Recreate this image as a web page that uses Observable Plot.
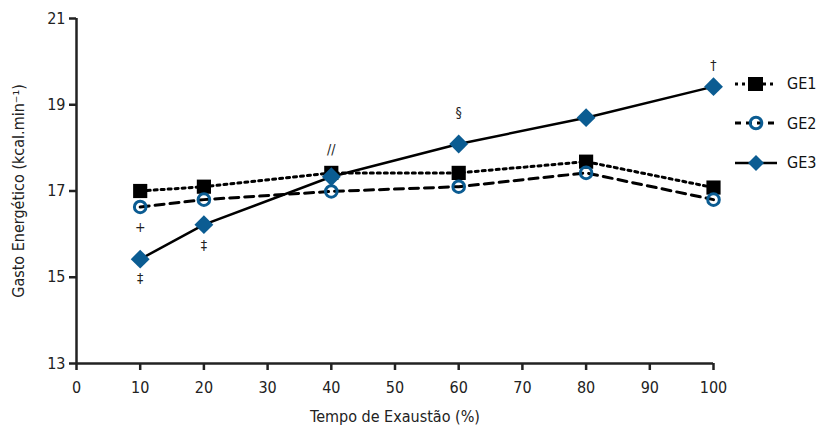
<!DOCTYPE html>
<html>
<head>
<meta charset="utf-8">
<script src="https://cdn.jsdelivr.net/npm/d3@7"></script>
<script src="https://cdn.jsdelivr.net/npm/@observablehq/plot@0.6"></script>
<style>
  html, body { margin: 0; padding: 0; background: #fff; }
  #wrap { position: relative; width: 817px; height: 426px; font-family: "DejaVu Sans Condensed", "DejaVu Sans", sans-serif; font-stretch: condensed; }
  #wrap svg text { font-stretch: condensed; }
  #legend { position: absolute; left: 733px; top: 64px; }
  .item { display: flex; align-items: center; height: 39.5px; font-size: 16px; color: #111; }
  .item svg { margin-right: 8px; }
</style>
</head>
<body>
<div id="wrap"></div>
<script>
const times = [10, 20, 40, 60, 80, 100];
const ge1 = [17.0, 17.1, 17.42, 17.42, 17.68, 17.08];
const ge2 = [16.63, 16.8, 16.99, 17.1, 17.42, 16.8];
const ge3 = [15.42, 16.22, 17.33, 18.09, 18.7, 19.42];
const seriesNames = ["GE1", "GE2", "GE3"];
const xTicks = [0, 10, 20, 30, 40, 50, 60, 70, 80, 90, 100];
const yTicks = [13, 15, 17, 19, 21];
const noteLabels = ["+", "‡", "‡", "//", "§", "†"];
const noteX = [10, 10, 20, 40, 60, 100];
const noteY = [16.16, 14.97, 15.74, 17.96, 18.83, 19.9];

const blue = "#0b5c92";
const font = "\"DejaVu Sans Condensed\", \"DejaVu Sans\", sans-serif";

const d1 = times.map((t, i) => ({t, v: ge1[i]}));
const d2 = times.map((t, i) => ({t, v: ge2[i]}));
const d3s = times.map((t, i) => ({t, v: ge3[i]}));
const notes = noteLabels.map((s, i) => ({s, x: noteX[i], y: noteY[i]}));

const xLabel = "Tempo de Exaustão (%)";
const yLabel = "Gasto Energético (kcal.min⁻¹)";

const chart = Plot.plot({
  width: 817,
  height: 426,
  marginLeft: 76,
  marginRight: 104,
  marginTop: 18,
  marginBottom: 63,
  style: {fontFamily: font, fontSize: "16px", color: "#222", background: "#fff"},
  x: {domain: [0, 100]},
  y: {domain: [13, 21]},
  marks: [
    Plot.axisX({ticks: xTicks, tickSize: 7, tickPadding: 11, tickFormat: d => d, fontSize: 16, stroke: "#222", strokeWidth: 2.5, label: xLabel, labelAnchor: "center", labelArrow: "none", labelOffset: 58}),
    Plot.axisY({ticks: yTicks, tickSize: 7, tickPadding: 4, fontSize: 16, stroke: "#222", strokeWidth: 2.5, label: yLabel, labelAnchor: "center", labelArrow: "none", labelOffset: 64}),
    Plot.ruleX([0], {stroke: "#222", strokeWidth: 2.5, y1: 13, y2: 21}),
    Plot.ruleY([13], {stroke: "#222", strokeWidth: 2.5}),
    Plot.line(d1, {x: "t", y: "v", stroke: "#000", strokeWidth: 3, strokeDasharray: "3,4"}),
    Plot.line(d2, {x: "t", y: "v", stroke: "#000", strokeWidth: 3, strokeDasharray: "9,6"}),
    Plot.line(d3s, {x: "t", y: "v", stroke: "#000", strokeWidth: 2.5}),
    Plot.dot(d1, {x: "t", y: "v", symbol: "square", r: 8, fill: "#000"}),
    Plot.dot(d2, {x: "t", y: "v", symbol: "circle", r: 5.8, fill: "none", stroke: blue, strokeWidth: 3}),
    Plot.dot(d3s, {x: "t", y: "v", symbol: "diamond2", r: 8.5, fill: blue}),
    Plot.text(notes, {x: "x", y: "y", text: "s", fontSize: 14, fill: "#222"})
  ]
});

const wrap = document.getElementById("wrap");
wrap.appendChild(chart);

// legend
const legend = document.createElement("div");
legend.id = "legend";
const styles = [
  {dash: "3,4", w: 3, marker: `<rect x="15" y="5" width="15" height="14" fill="#000"/>`},
  {dash: "6,5", w: 3, marker: `<circle cx="23" cy="12" r="5.8" fill="none" stroke="${blue}" stroke-width="3"/>`},
  {dash: null, w: 2.5, marker: `<path d="M23 4 L31 12 L23 20 L15 12 Z" fill="${blue}"/>`}
];
seriesNames.forEach((name, i) => {
  const s = styles[i];
  const item = document.createElement("div");
  item.className = "item";
  item.innerHTML = `<svg width="46" height="24"><line x1="2" x2="44" y1="12" y2="12" stroke="#000" stroke-width="${s.w}" ${s.dash ? `stroke-dasharray="${s.dash}"` : ""}/>${s.marker}</svg><span>${name}</span>`;
  legend.appendChild(item);
});
wrap.appendChild(legend);
</script>
</body>
</html>
